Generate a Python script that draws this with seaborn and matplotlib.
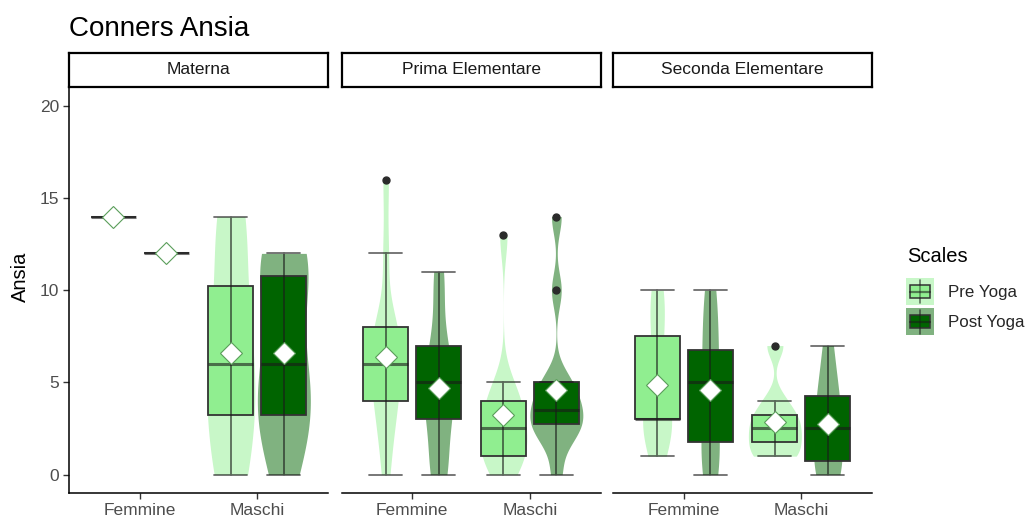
import numpy as np
import pandas as pd
import matplotlib
matplotlib.use("Agg")
import matplotlib.pyplot as plt
from matplotlib.patches import Rectangle
from matplotlib.lines import Line2D
from matplotlib.legend_handler import HandlerBase
import seaborn as sns

# ---- data -------------------------------------------------------------
classes = ["Materna", "Prima Elementare", "Seconda Elementare"]
genders = ["Femmine", "Maschi"]
scales = ["Pre Yoga", "Post Yoga"]

materna_f_pre = [14]
materna_f_post = [12]
materna_m_pre = [0, 0, 3, 4, 5, 7, 8, 11, 14, 14]
materna_m_post = [0, 2, 3, 4, 6, 6, 10, 11, 12, 12]

prima_f_pre = [0, 2, 3, 4, 5, 5, 6, 7, 7, 8, 8, 12, 16]
prima_f_post = [0, 0, 1, 3, 3, 4, 5, 5, 5, 7, 7, 10, 11]
prima_m_pre = [0, 1, 1, 1, 2, 2, 3, 3, 4, 4, 5, 13]
prima_m_post = [0, 2, 2, 3, 3, 3, 4, 4, 5, 5, 10, 14]

seconda_f_pre = [1, 2, 3, 3, 3, 3, 3, 5, 7, 9, 9, 10]
seconda_f_post = [0, 0, 1, 2, 2, 4, 6, 6, 6, 9, 9, 10]
seconda_m_pre = [1, 1, 2, 2, 3, 3, 4, 7]
seconda_m_post = [0, 0, 1, 2, 3, 4, 5, 7]

scores = {
    ("Materna", "Femmine", "Pre Yoga"): materna_f_pre,
    ("Materna", "Femmine", "Post Yoga"): materna_f_post,
    ("Materna", "Maschi", "Pre Yoga"): materna_m_pre,
    ("Materna", "Maschi", "Post Yoga"): materna_m_post,
    ("Prima Elementare", "Femmine", "Pre Yoga"): prima_f_pre,
    ("Prima Elementare", "Femmine", "Post Yoga"): prima_f_post,
    ("Prima Elementare", "Maschi", "Pre Yoga"): prima_m_pre,
    ("Prima Elementare", "Maschi", "Post Yoga"): prima_m_post,
    ("Seconda Elementare", "Femmine", "Pre Yoga"): seconda_f_pre,
    ("Seconda Elementare", "Femmine", "Post Yoga"): seconda_f_post,
    ("Seconda Elementare", "Maschi", "Pre Yoga"): seconda_m_pre,
    ("Seconda Elementare", "Maschi", "Post Yoga"): seconda_m_post,
}
rows = [(c, g, s, v) for (c, g, s), vals in scores.items() for v in vals]
df = pd.DataFrame(rows, columns=["Classe", "Genere", "Scales", "Ansia"])

y_ticks = [0, 5, 10, 15, 20]

box_fill = {"Pre Yoga": "#90EE90", "Post Yoga": "#006400"}
violin_fill = {"Pre Yoga": "#C8F7C8", "Post Yoga": "#80B280"}


# ---- helpers ----------------------------------------------------------
def nrd0(kde):
    """Silverman's rule of thumb (R's bw.nrd0) as a scipy bandwidth factor."""
    d = np.asarray(kde.dataset).ravel()
    sd = d.std(ddof=1)
    q25, q75 = np.percentile(d, [25, 75])
    lo = min(sd, (q75 - q25) / 1.34) if q75 > q25 else sd
    return 0.9 * lo * d.size ** -0.2 / sd


def whisker_range(v):
    """Extent of the boxplot whiskers (1.5 IQR rule)."""
    v = np.asarray(v)
    q1, q3 = np.percentile(v, [25, 75])
    iqr = q3 - q1
    inside = v[(v >= q1 - 1.5 * iqr) & (v <= q3 + 1.5 * iqr)]
    return inside.min(), inside.max()


class BoxKey:
    def __init__(self, box, violin):
        self.box = box
        self.violin = violin


class BoxKeyHandler(HandlerBase):
    def create_artists(self, legend, orig, xdescent, ydescent, width, height,
                       fontsize, trans):
        x0, y0 = -xdescent, -ydescent
        bg = Rectangle((x0, y0), width, height, facecolor=orig.violin,
                       edgecolor="none", transform=trans)
        whisk = Line2D([x0 + width / 2] * 2, [y0 + 0.06 * height, y0 + 0.94 * height],
                       color="#1a1a1a", alpha=0.6, lw=1.2, transform=trans)
        box = Rectangle((x0 + 0.14 * width, y0 + 0.26 * height), 0.72 * width,
                        0.48 * height, facecolor=orig.box, edgecolor="#333333",
                        lw=1.1, transform=trans)
        med = Line2D([x0 + 0.14 * width, x0 + 0.86 * width], [y0 + height / 2] * 2,
                     color="#1a1a1a", alpha=0.55, lw=1.6, transform=trans)
        whisk2 = Line2D([x0 + width / 2] * 2, [y0 + 0.26 * height, y0 + 0.74 * height],
                        color="#1a1a1a", alpha=0.45, lw=1.2, transform=trans)
        return [bg, whisk, box, med, whisk2]


# ---- figure -----------------------------------------------------------
sns.set_theme(style="ticks")
plt.rcParams["font.family"] = ["Liberation Sans", "DejaVu Sans"]

W, H = 1035, 518
fig = plt.figure(figsize=(W / 100, H / 100), dpi=100)


def px_axes(x0, y0, x1, y1):
    return fig.add_axes([x0 / W, 1 - y1 / H, (x1 - x0) / W, (y1 - y0) / H])


panel_x = [(69, 328), (341.5, 600.5), (613, 872)]
panel_top, panel_bottom = 87.5, 493
strip_top = 52.5

common = dict(x="Genere", y="Ansia", hue="Scales", order=genders, hue_order=scales,
              legend=False)

for i, cls in enumerate(classes):
    x0, x1 = panel_x[i]
    ax = px_axes(x0, panel_top, x1, panel_bottom)
    sub = df[df["Classe"] == cls]

    # violins need at least two observations per group
    n = sub.groupby(["Genere", "Scales"])["Ansia"].transform("size")
    vsub = sub[n >= 2]
    sns.violinplot(data=vsub, palette=violin_fill, width=0.9, gap=0, cut=0,
                   density_norm="area", common_norm=True, inner=None,
                   linewidth=0, saturation=1, bw_method=nrd0, ax=ax, **common)

    sns.boxplot(data=sub, palette=box_fill, width=0.9, gap=0.15, saturation=1,
                linecolor="#333333", linewidth=1.3, whis=1.5,
                whiskerprops={"visible": False}, capprops={"visible": False},
                medianprops={"color": "#1a1a1a", "alpha": 0.6, "linewidth": 2.2},
                flierprops={"marker": "o", "markerfacecolor": "#2b2b2b",
                            "markeredgecolor": "#2b2b2b", "markersize": 5,
                            "zorder": 4},
                ax=ax, **common)

    # whiskers with caps drawn over the boxes
    sns.pointplot(data=sub, palette=box_fill, estimator="median",
                  errorbar=whisker_range, dodge=0.45, capsize=0.28,
                  linestyle="none", markers="", markersize=0,
                  err_kws={"color": "#1a1a1a", "alpha": 0.64, "linewidth": 1.3,
                           "zorder": 3},
                  ax=ax, **common)

    # group means
    sns.pointplot(data=sub, palette=box_fill, estimator="mean", errorbar=None,
                  dodge=0.45, linestyle="none", markers="D", markersize=11,
                  markerfacecolor="white", markeredgecolor="#5a9e5a",
                  markeredgewidth=0.8, zorder=6, ax=ax, **common)

    ax.set_xlim(-0.6, 1.6)
    ax.set_ylim(-1, 21)
    ax.set_yticks(y_ticks)
    ax.set_xlabel("")
    ax.set_ylabel("")
    ax.set_facecolor("none")
    ax.spines["top"].set_visible(False)
    ax.spines["right"].set_visible(False)
    for s in ("left", "bottom"):
        ax.spines[s].set_color("black")
        ax.spines[s].set_linewidth(1.1)
    ax.tick_params(length=4, width=1, color="#333333", labelcolor="#4D4D4D",
                   labelsize=12.5, pad=3)
    if i > 0:
        ax.spines["left"].set_visible(False)
        ax.tick_params(axis="y", left=False, labelleft=False)

    # facet strip
    sax = px_axes(x0, strip_top, x1, panel_top)
    sax.set_xticks([])
    sax.set_yticks([])
    sax.set_facecolor("white")
    for s in sax.spines.values():
        s.set_visible(True)
        s.set_color("black")
        s.set_linewidth(1.6)
    sax.text(0.5, 0.5, cls, ha="center", va="center", fontsize=12.5,
             color="#1A1A1A", transform=sax.transAxes)

fig.text(69 / W, 1 - 35.5 / H, "Conners Ansia", fontsize=20, ha="left",
         va="baseline", color="black")
fig.text(20 / W, 1 - 277 / H, "Ansia", rotation=90, ha="center", va="center",
         fontsize=14.5, color="black")

# legend: title set as its own text, keys below it
fig.text(907 / W, 1 - 256 / H, "Scales", ha="left", va="center",
         fontsize=14.5, color="black")
handles = [BoxKey(box_fill[s], violin_fill[s]) for s in scales]
fig.legend(handles=handles, labels=scales, handler_map={BoxKey: BoxKeyHandler()},
           loc="upper left", bbox_to_anchor=(906 / W, 1 - 278 / H), frameon=False,
           fontsize=12.2, handlelength=1.65, handleheight=2.08, handletextpad=0.8,
           labelspacing=0.18, borderpad=0, borderaxespad=0, alignment="left")

fig.savefig("out.png", dpi=100)
